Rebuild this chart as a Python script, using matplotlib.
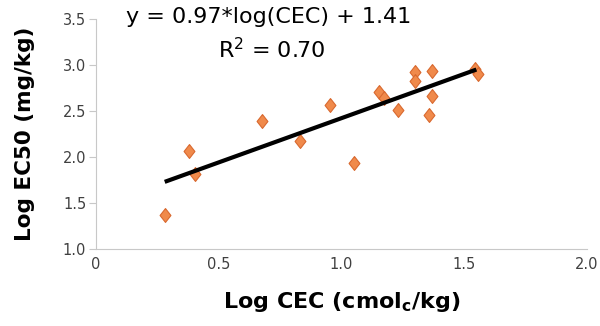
import numpy as np
import matplotlib
matplotlib.use('Agg')
import matplotlib.pyplot as plt

# data =================================================================================
log_cec = [0.28, 0.38, 0.405, 0.675, 0.83, 0.955, 1.05, 1.155, 1.175, 1.23,
           1.30, 1.30, 1.355, 1.37, 1.37, 1.545, 1.555]
log_ec50 = [1.37, 2.07, 1.81, 2.39, 2.17, 2.56, 1.94, 2.71, 2.64, 2.51,
            2.92, 2.83, 2.46, 2.93, 2.66, 2.96, 2.90]

# trendline end points
trend_x = [0.28, 1.55]
trend_y = [1.73, 2.95]

x_ticks = [0, 0.5, 1.0, 1.5, 2.0]
x_tick_labels = ['0', '0.5', '1.0', '1.5', '2.0']
y_ticks = [1.0, 1.5, 2.0, 2.5, 3.0, 3.5]

plt.rcParams['font.family'] = ['DejaVu Sans']

fig = plt.figure(figsize=(6.0, 3.26), dpi=100)
ax = fig.add_axes([0.16, 0.236, 0.818, 0.706])

diamond = [(0, 1), (0.78, 0), (0, -1), (-0.78, 0), (0, 1)]
ax.plot(log_cec, log_ec50, linestyle='none', marker=diamond, markersize=10,
        markerfacecolor='#F08A4B', markeredgecolor='#D9692F', markeredgewidth=0.8, zorder=3)

ax.plot(trend_x, trend_y, color='black', linewidth=3, solid_capstyle='butt', zorder=4)

ax.set_xlim(0, 2.0)
ax.set_ylim(1.0, 3.5)
ax.set_xticks(x_ticks)
ax.set_xticklabels(x_tick_labels)
ax.set_yticks(y_ticks)

for side in ['top', 'right']:
    ax.spines[side].set_visible(False)
for side in ['left', 'bottom']:
    ax.spines[side].set_color('#C8C8C8')
    ax.spines[side].set_linewidth(0.8)

ax.tick_params(axis='y', length=5, width=0.8, color='#C8C8C8', labelsize=10.5,
               labelcolor='#404040', pad=2)
ax.tick_params(axis='x', length=0, labelsize=10.5, labelcolor='#404040', pad=6)

ax.set_xlabel('Log CEC (cmol$_\\mathregular{c}$/kg)', fontsize=16, fontweight='bold', labelpad=13)
ax.set_ylabel('Log EC50 (mg/kg)', fontsize=15.5, fontweight='bold', labelpad=20)

fig.text(0.448, 0.948, 'y = 0.97*log(CEC) + 1.41', fontsize=16, ha='center', va='center')
fig.text(0.453, 0.847, 'R$^\\mathregular{2}$ = 0.70', fontsize=16, ha='center', va='center')

fig.savefig('out.png', dpi=100)
